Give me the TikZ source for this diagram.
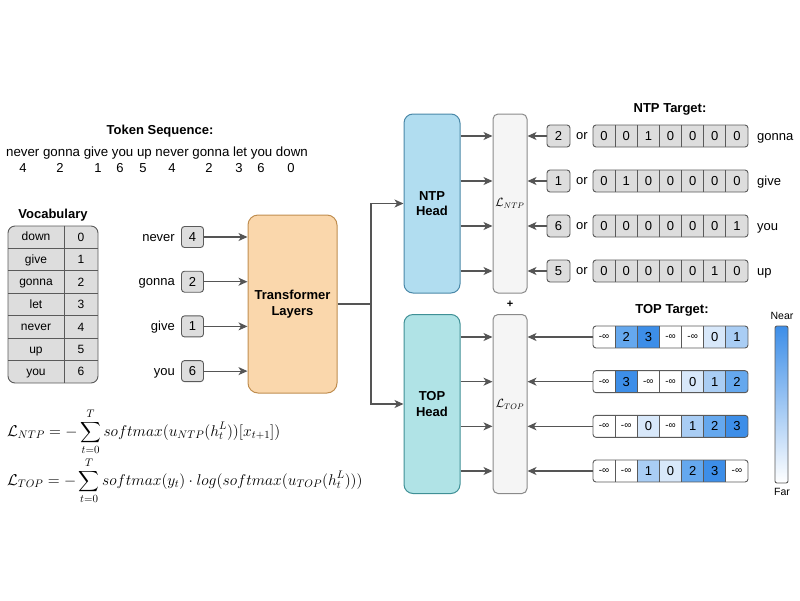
\RequirePackage{fix-cm}
\documentclass[tikz,border=0pt]{standalone}
\usepackage{exscale}
\usepackage[no-math]{fontspec}
\setmainfont{Liberation Sans}
\usetikzlibrary{arrows.meta}
\definecolor{linec}{HTML}{555555}
\definecolor{boxline}{HTML}{5A5A5A}
\definecolor{cellg}{HTML}{DDDDDD}
\definecolor{trff}{HTML}{FAD7AC}
\definecolor{trfd}{HTML}{C08E50}
\definecolor{ntpf}{HTML}{B1DDF0}
\definecolor{ntpd}{HTML}{4A88A8}
\definecolor{topf}{HTML}{B0E3E6}
\definecolor{topd}{HTML}{3F9096}
\definecolor{lossf}{HTML}{F5F5F5}
\definecolor{lossd}{HTML}{8A8A8A}
\definecolor{topn}{HTML}{FFFFFF}
\definecolor{top0}{HTML}{D8E8FA}
\definecolor{top1}{HTML}{A9CDF4}
\definecolor{top2}{HTML}{65A8EE}
\definecolor{top3}{HTML}{3D8EE8}
\begin{document}
\begin{tikzpicture}[x=1pt,y=-1pt,
  lbl/.style={font=\fontsize{13}{15}\selectfont, inner sep=0pt},
  wrd/.style={font=\fontsize{13}{15}\selectfont, inner sep=0pt, text height=8pt, text depth=0pt},
  ttl/.style={font=\fontsize{13}{15}\selectfont\bfseries, inner sep=0pt},
  small/.style={font=\fontsize{10.5}{12}\selectfont, inner sep=0pt},
  ln/.style={draw=linec, line width=1.2pt},
  arr/.style={draw=linec, line width=1.2pt, -{Stealth[length=9pt,width=8pt,inset=2.5pt]}},
  gbox/.style={draw=boxline, fill=cellg, rounded corners=3pt, minimum width=22pt, minimum height=21pt, inner sep=0pt, line width=0.9pt, font=\fontsize{13}{15}\selectfont},
  rowtab/.style={draw=boxline, rounded corners=3pt, minimum width=155pt, minimum height=22pt, inner sep=0pt, line width=0.9pt},
  head/.style={rounded corners=9pt, minimum width=56pt, minimum height=179pt, line width=1pt, align=center, font=\fontsize{13}{15.5}\selectfont\bfseries},
  loss/.style={draw=lossd, fill=lossf, rounded corners=5pt, minimum width=34pt, minimum height=179pt, line width=1pt, inner sep=0pt, font=\fontsize{12}{14}\selectfont}
]
\useasboundingbox (0,0) rectangle (800,600);

% Token sequence
\node[ttl] (tstitle) at (160,131) {Token Sequence:};
\node[lbl, font=\fontsize{13.3}{15}\selectfont] (tseq) at (157,153) {never gonna give you up never gonna let you down};
\foreach [count=\i] \xx/\n in {23/4,60/2,98/1,120/6,143/5,172/4,209/2,239/3,261/6,291/0}
  \node[lbl] (seq\i) at (\xx,168) {\n};

% Vocabulary
\node[ttl] (vtitle) at (53,215) {Vocabulary};
\node[draw=boxline, fill=cellg, rounded corners=7pt, minimum width=90pt, minimum height=157pt, line width=0.9pt, inner sep=0pt] (vocab) at (53,304.5) {};
\draw[draw=boxline, line width=0.9pt] (vocab.north -| 64,0) -- (vocab.south -| 64,0);
\foreach \i in {1,...,6}
  \draw[draw=boxline, line width=0.9pt] (8,{226+22.43*\i}) -- (98,{226+22.43*\i});
\foreach [count=\i] \w/\n in {down/0,give/1,gonna/2,let/3,never/4,up/5,you/6}{
  \node[font=\fontsize{12}{14}\selectfont, inner sep=0pt, text height=7.5pt, text depth=0pt] (vw\i) at (36,{226+22.43*(\i-0.5)}) {\w};
  \node[font=\fontsize{12}{14}\selectfont, inner sep=0pt] (vn\i) at (81,{226+22.43*(\i-0.5)}) {\n};
}

% Transformer
\node[draw=trfd, fill=trff, rounded corners=10pt, minimum width=89pt, minimum height=178pt, line width=1pt, align=center, font=\fontsize{13}{15.5}\selectfont\bfseries] (trf) at (292.5,304) {Transformer\\Layers};

\foreach [count=\i] \w/\n in {never/4,gonna/2,give/1,you/6}{
  \node[gbox] (in\i) at (192.5,{237+44.7*(\i-1)}) {\n};
  \node[wrd, anchor=east] (inl\i) at (175,{237+44.7*(\i-1)}) {\w};
  \draw[arr] (in\i.east) -- (in\i.east -| trf.west);
}

% Heads and losses
\node[head, fill=ntpf, draw=ntpd] (ntp) at (432,203.5) {NTP\\Head};
\node[head, fill=topf, draw=topd] (top) at (432,404) {TOP\\Head};
\node[loss] (lntp) at (510,203.5) {$\mathcal{L}_{NTP}$};
\node[loss] (ltop) at (510,404) {$\mathcal{L}_{TOP}$};
\node[font=\fontsize{11}{12}\selectfont\bfseries, inner sep=0pt] (plus) at (510,304) {+};

\coordinate (split) at (371,304);
\draw[ln] (trf.east) -- (split);
\draw[arr] (split) |- (ntp.west);
\draw[arr] (split) |- (top.west);

% NTP targets
\node[ttl] (ntptitle) at (670,109) {NTP Target:};
\foreach [count=\r] \idx/\pos/\w in {2/3/gonna,1/2/give,6/7/you,5/6/up}{
  \pgfmathsetmacro{\yy}{136+45*(\r-1)}
  \node[gbox, minimum width=23pt, minimum height=22pt] (nt\r) at (558.5,\yy) {\idx};
  \node[wrd, text height=6.5pt] (or\r) at (582,\yy) {or};
  \node[rowtab, fill=cellg] (oh\r) at (670.5,\yy) {};
  \foreach \k in {1,...,6}
    \draw[draw=boxline, line width=0.9pt] ({593+155/7*\k},{\yy-11}) -- ({593+155/7*\k},{\yy+11});
  \foreach \k in {1,...,7}
    \node[lbl] (oh\r c\k) at ({593+155/7*(\k-0.5)},\yy) {\ifnum\k=\pos\relax 1\else 0\fi};
  \node[wrd, anchor=west] (w\r) at (757,\yy) {\w};
  \draw[arr] (nt\r.west) -- (nt\r.west -| lntp.east);
  \draw[arr] (ntp.east |- nt\r) -- (lntp.west |- nt\r);
}

% TOP targets
\node[ttl] (toptitle) at (672,310) {TOP Target:};
\foreach [count=\r] \vals in {{n,2,3,n,n,0,1},{n,3,n,n,0,1,2},{n,n,0,n,1,2,3},{n,n,1,0,2,3,n}}{
  \pgfmathsetmacro{\yy}{337+44.67*(\r-1)}
  \begin{scope}
    \clip[rounded corners=3pt] (593,{\yy-11}) rectangle (748,{\yy+11});
    \foreach [count=\k] \v in \vals
      \fill[top\v] ({593+155/7*(\k-1)},{\yy-11}) rectangle ++(155/7,22);
  \end{scope}
  \node[rowtab] (tt\r) at (670.5,\yy) {};
  \foreach \k in {1,...,6}
    \draw[draw=boxline, line width=0.9pt] ({593+155/7*\k},{\yy-11}) -- ({593+155/7*\k},{\yy+11});
  \foreach [count=\k] \v in \vals
    \node[inner sep=0pt, font=\if\v n\fontsize{10}{12}\selectfont\else\fontsize{13}{15}\selectfont\fi] (tt\r c\k) at ({593+155/7*(\k-0.5)},\yy) {\if\v n-∞\else\v\fi};
  \draw[arr] (tt\r.west) -- (tt\r.west -| ltop.east);
  \draw[arr] (top.east |- tt\r) -- (ltop.west |- tt\r);
}

% Colour bar
\node[draw=boxline, top color=top3, bottom color=white, rounded corners=2pt, minimum width=13pt, minimum height=157pt, inner sep=0pt, line width=0.9pt] (cbar) at (781.5,404.5) {};
\node[small] (near) at (782,316) {Near};
\node[small] (far) at (782,492) {Far};

% Formulas
\node[anchor=base west, inner sep=0pt, font=\fontsize{15.6}{18}\selectfont] (fntp) at (7,436) {$\displaystyle \mathcal{L}_{NTP}=-\sum_{t=0}^{T} softmax(u_{NTP}(h_t^L))[x_{t+1}])$};
\node[anchor=base west, inner sep=0pt, font=\fontsize{15.6}{18}\selectfont] (ftop) at (7,485) {$\displaystyle \mathcal{L}_{TOP}=-\sum_{t=0}^{T} softmax(y_t)\cdot log(softmax(u_{TOP}(h_t^L)))$};
\end{tikzpicture}
\end{document}
